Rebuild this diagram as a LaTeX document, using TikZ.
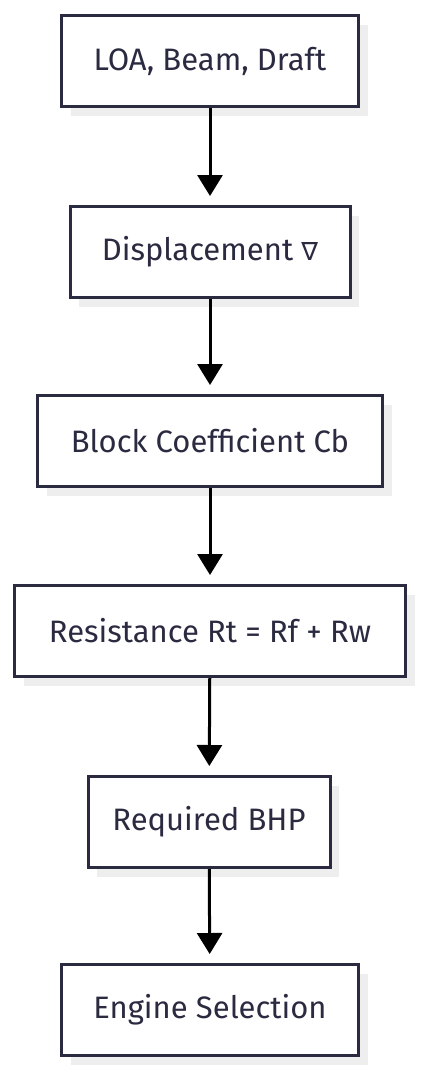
\documentclass[tikz,border=0pt]{standalone}
\usepackage{fontspec}
\setmainfont{Fira Sans}
\newfontfamily\symfont{DejaVu Sans}
\usetikzlibrary{arrows.meta,shadows}
\definecolor{ink}{HTML}{2A2A40}
\definecolor{shade}{HTML}{EEEEEE}
\tikzset{
  box/.style={draw=ink, line width=3pt, fill=white, text=ink, minimum height=91pt,
    font=\fontsize{31}{36}\selectfont, inner xsep=0pt,
    drop shadow={shadow xshift=9pt, shadow yshift=-9pt, fill=shade, opacity=1}},
  flow/.style={line width=3pt, -{Triangle[width=25pt,length=21pt]}, shorten >=9pt}
}
\begin{document}
\begin{tikzpicture}[x=1pt,y=-1pt]
\useasboundingbox (0,0) rectangle (421,1072);
\node[box, minimum width=297pt] (a) at (210,61) {LOA, Beam, Draft};
\node[box, minimum width=280pt] (b) at (210,252) {Displacement {\symfont\fontsize{25}{30}\selectfont ∇}};
\node[box, minimum width=345pt] (c) at (210,441) {Block Coefficient Cb};
\node[box, minimum width=391pt] (d) at (210,631) {Resistance Rt = Rf + Rw};
\node[box, minimum width=242pt] (e) at (209,822) {Required BHP};
\node[box, minimum width=297pt] (f) at (210,1010) {Engine Selection};
\draw[flow] (a) -- (b);
\draw[flow] (b) -- (c);
\draw[flow] (c) -- (d);
\draw[flow] (d) -- (e);
\draw[flow] (e) -- (f);
\end{tikzpicture}
\end{document}
